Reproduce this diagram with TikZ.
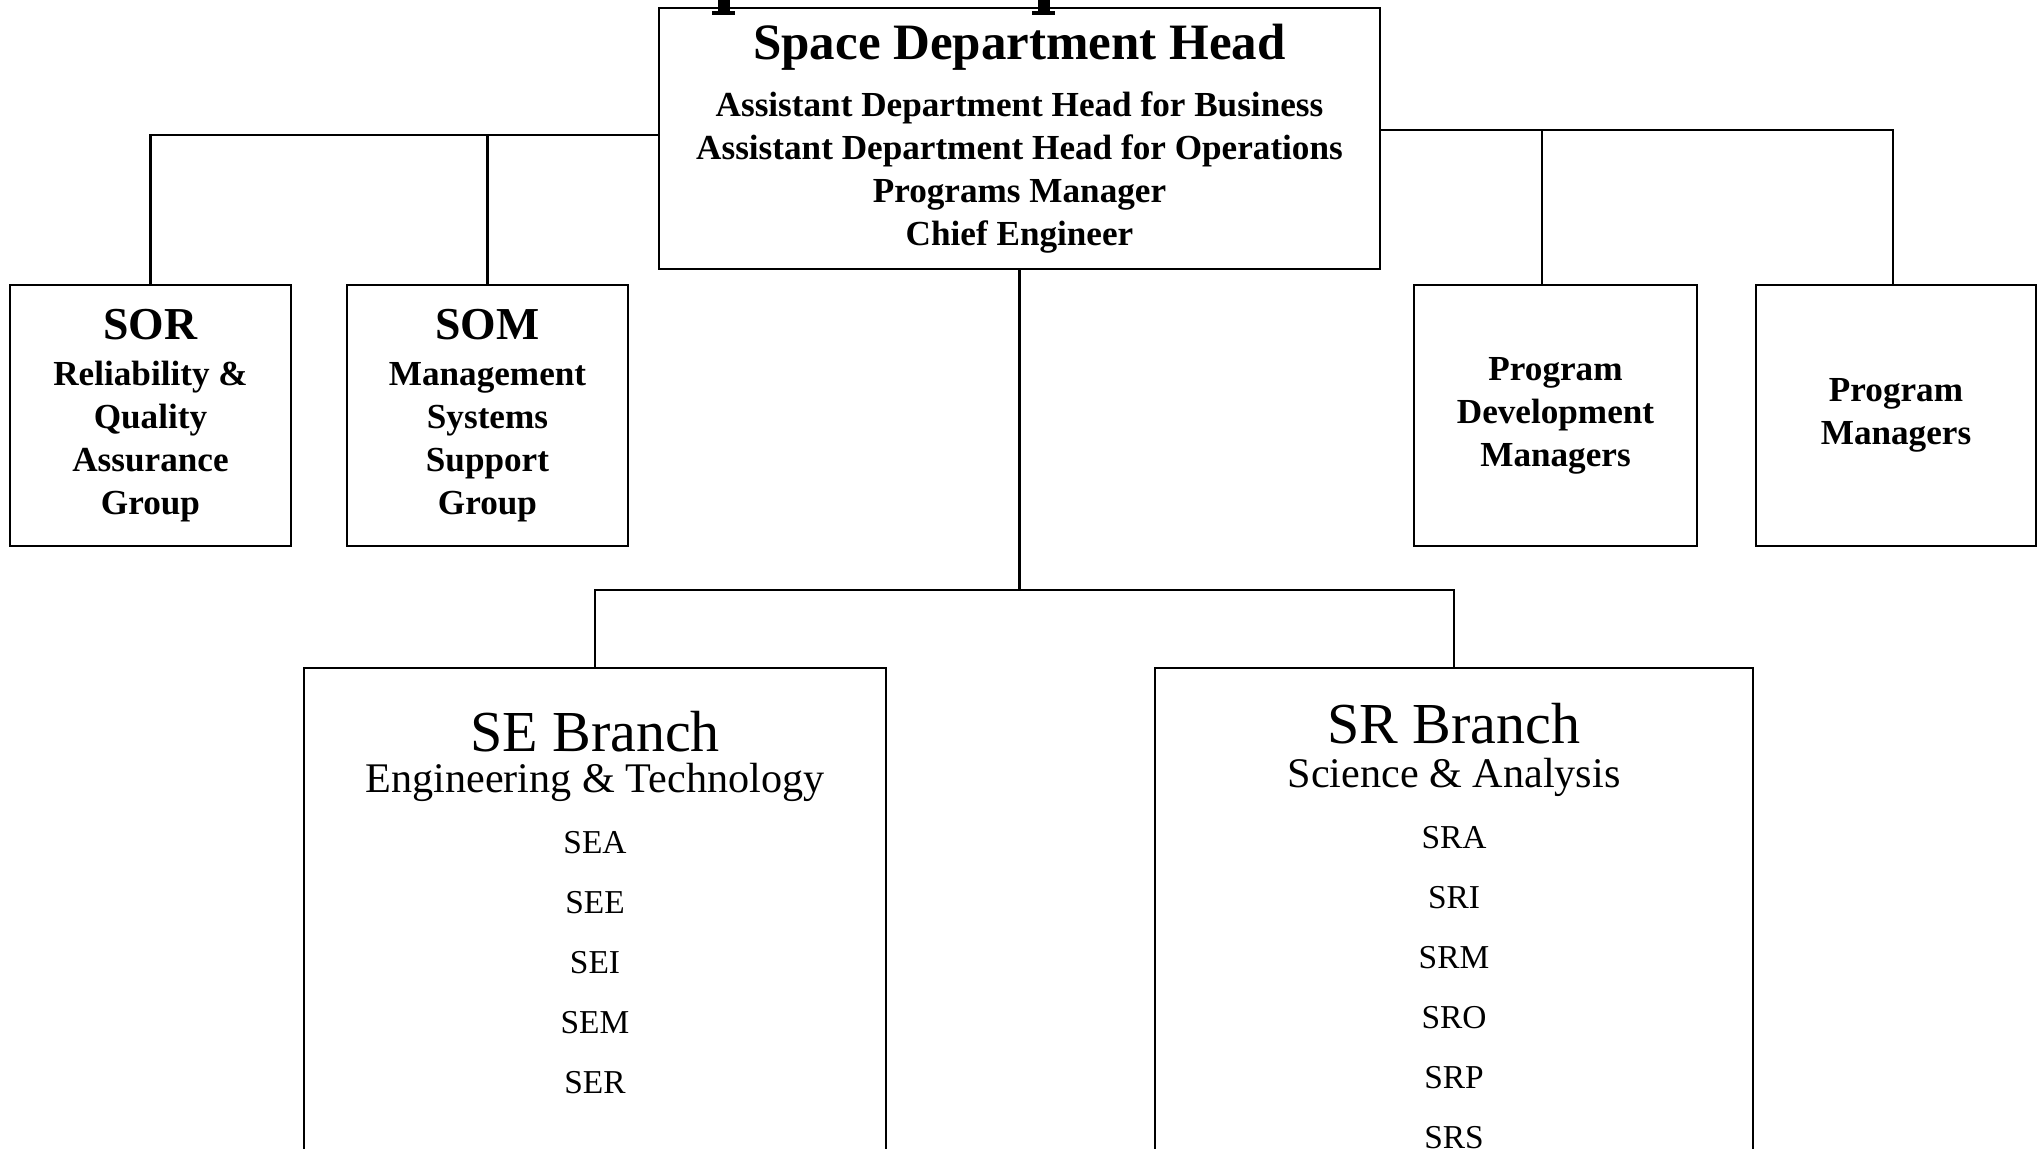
\documentclass[tikz,border=0pt]{standalone}
\usepackage{fontspec}
\setmainfont{Liberation Serif}
\begin{document}
\begin{tikzpicture}[x=0.01cm,y=-0.01cm,
    box/.style={draw,line width=0.6pt,align=center,inner sep=0pt},
    sub/.style={font=\bfseries\fontsize{10}{12.2}\selectfont},
    branch/.style={font=\fontsize{16.5}{19}\selectfont,anchor=base,inner sep=0pt},
    area/.style={font=\fontsize{12}{14}\selectfont,anchor=base,inner sep=0pt},
    item/.style={font=\fontsize{9.5}{12}\selectfont,anchor=base,inner sep=0pt}]
  \clip (0,0) rectangle (2039,1148);
  \fill[white] (0,0) rectangle (2039,1148);
  % feet of the cut-off title above the box
  \fill (718,0) rectangle (730,15); \fill (712,11) rectangle (735,15);
  \fill (1038,0) rectangle (1050,15); \fill (1032,11) rectangle (1055,15);

  \node at (1019.5,138.5) [box,sub,minimum width=7.21cm,minimum height=2.61cm] (head)
    {{\fontsize{14.5}{17}\selectfont Space Department Head}\\[4pt]
     Assistant Department Head for Business\\
     Assistant Department Head for Operations\\
     Programs Manager\\
     Chief Engineer};

  \node at (150.5,415.5) [box,sub,minimum width=2.81cm,minimum height=2.61cm] (sor)
    {{\fontsize{13}{15}\selectfont SOR}\\[1pt] Reliability \&\\ Quality\\ Assurance\\ Group};
  \node at (487.5,415.5) [box,sub,minimum width=2.81cm,minimum height=2.61cm] (som)
    {{\fontsize{13}{15}\selectfont SOM}\\[1pt] Management\\ Systems\\ Support\\ Group};
  \node at (1555.5,415.5) [box,sub,minimum width=2.83cm,minimum height=2.61cm] (pdm)
    {Program\\ Development\\ Managers};
  \node at (1896,415.5) [box,sub,minimum width=2.80cm,minimum height=2.61cm] (pm)
    {Program\\ Managers};

  \node at (595,667) [box,anchor=north,minimum width=5.82cm,minimum height=5cm] (se) {};
  \node at (1454,667) [box,anchor=north,minimum width=5.98cm,minimum height=5cm] (sr) {};

  % branch texts
  \node[branch] (setitle) at (se.north |- 0,751) {SE Branch};
  \node[area] (searea) at (se.north |- 0,792) {Engineering \& Technology};
  \foreach \lbl [count=\i] in {SEA,SEE,SEI,SEM,SER}
    \node[item] (se\lbl) at (595,793+60*\i) {\lbl};
  \node[branch] (srtitle) at (sr.north |- 0,743) {SR Branch};
  \node[area] (srarea) at (sr.north |- 0,787) {Science \& Analysis};
  \foreach \lbl [count=\i] in {SRA,SRI,SRM,SRO,SRP,SRS}
    \node[item] (sr\lbl) at (1454,788+60*\i) {\lbl};

  % connectors
  \draw[line width=0.6pt] ([yshift=0.035cm]head.west) -| (sor.north);
  \draw[line width=0.6pt] (som.north) -- (som.north |- 0,135);
  \draw[line width=0.6pt] ([yshift=0.085cm]head.east) -| ([xshift=-0.03cm]pm.north);
  \draw[line width=0.6pt] ([xshift=-0.135cm]pdm.north) -- ++(0,-285+130);
  \draw[line width=0.6pt] (head.south) -- ++(0,320) coordinate (hub);
  \draw[line width=0.6pt] (se.north) |- (hub) -| (sr.north);
\end{tikzpicture}
\end{document}
